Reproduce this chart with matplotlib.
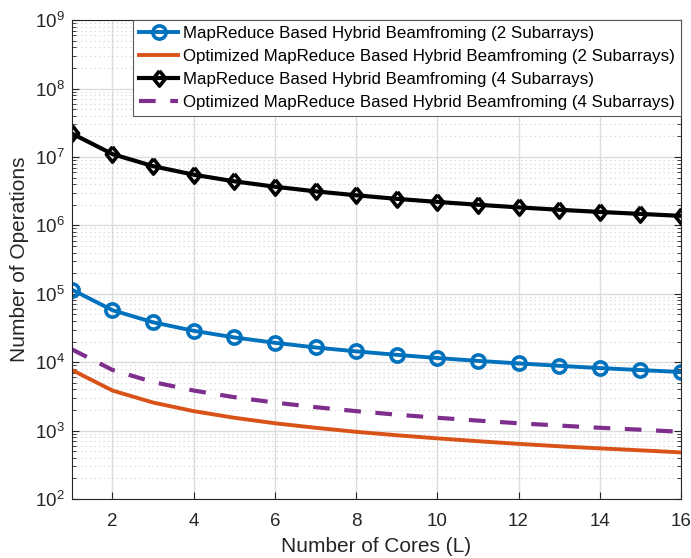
import matplotlib.pyplot as plt
from matplotlib.ticker import NullFormatter

plt.rcParams['font.family'] = ['Liberation Sans', 'DejaVu Sans']

cores = list(range(1, 17))

ops_2sub = [115000, 57500, 38300, 28750, 23000, 19200, 16400, 14400,
            12800, 11500, 10450, 9600, 8850, 8200, 7670, 7190]
ops_2sub_opt = [7700, 3850, 2570, 1925, 1540, 1280, 1100, 960,
                855, 770, 700, 640, 590, 550, 515, 480]
ops_4sub = [22000000, 11000000, 7330000, 5500000, 4400000, 3670000, 3140000, 2750000,
            2440000, 2200000, 2000000, 1830000, 1690000, 1570000, 1470000, 1375000]
ops_4sub_opt = [15400, 7700, 5130, 3850, 3080, 2570, 2200, 1925,
                1710, 1540, 1400, 1280, 1185, 1100, 1030, 960]

labels = ['MapReduce Based Hybrid Beamfroming (2 Subarrays)',
          'Optimized MapReduce Based Hybrid Beamfroming (2 Subarrays)',
          'MapReduce Based Hybrid Beamfroming (4 Subarrays)',
          'Optimized MapReduce Based Hybrid Beamfroming (4 Subarrays)']

# slightly tall diamond, like the matlab one
diamond = [(0, 1), (0.8, 0), (0, -1), (-0.8, 0), (0, 1)]

fig = plt.figure(figsize=(6.91, 5.58), dpi=100)
ax = fig.add_axes([0.104, 0.1057, 0.8815, 0.8583])

ax.semilogy(cores, ops_2sub, '-o', color='#0072BD', lw=2.8, ms=9.5,
            mfc='none', mew=2.6, label=labels[0])
ax.semilogy(cores, ops_2sub_opt, '-', color='#D95319', lw=2.8, label=labels[1])
ax.semilogy(cores, ops_4sub, '-', marker=diamond, color='#000000', lw=3, ms=11,
            mfc='none', mew=2.6, label=labels[2])
ax.semilogy(cores, ops_4sub_opt, '--', color='#7E2F8E', lw=3,
            dashes=(4, 3.5), label=labels[3])

ax.set_xlim(1, 16)
ax.set_ylim(1e2, 1e9)
ax.set_xticks(range(2, 17, 2))
# decades 10^2 .. 10^9 and the minor ticks in between
ax.set_yticks([10.0 ** p for p in range(2, 10)])
ax.set_yticks([m * 10.0 ** p for p in range(2, 9) for m in range(2, 10)], minor=True)
ax.yaxis.set_minor_formatter(NullFormatter())

ax.grid(True, which='major', color='#dcdcdc', lw=1)
ax.grid(True, which='minor', axis='y', color='#cfcfcf', lw=0.8, linestyle=(0, (1, 3)))
ax.set_axisbelow(True)

ax.tick_params(which='both', direction='in', colors='#262626', labelsize=13.5,
               right=True, top=False)
ax.tick_params(axis='x', pad=10)
ax.tick_params(axis='y', pad=5)
ax.tick_params(which='major', length=5)
ax.tick_params(which='minor', length=3)
for s in ax.spines.values():
    s.set_color('#262626')
    s.set_linewidth(0.8)

ax.set_xlabel('Number of Cores (L)', fontsize=15, color='#262626', labelpad=5)
ax.set_ylabel('Number of Operations', fontsize=15, color='#262626', labelpad=4)

leg = ax.legend(loc='upper right', fontsize=12.2, frameon=True, fancybox=False,
                borderaxespad=0, handlelength=2.3, handletextpad=0.3,
                labelspacing=0.48, borderpad=0.35)
leg.get_frame().set_edgecolor('#5a5a5a')
leg.get_frame().set_linewidth(0.8)
leg.get_frame().set_alpha(1)

fig.savefig('out.png', dpi=100)
